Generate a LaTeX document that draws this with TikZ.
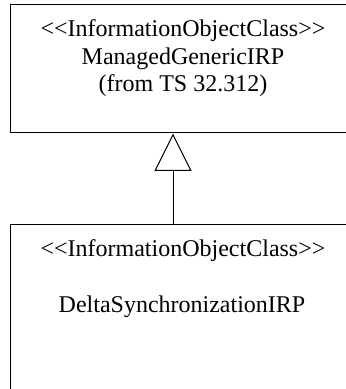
\documentclass[tikz,border=0pt]{standalone}
\usepackage{fontspec}
\setmainfont{Liberation Serif}
\usetikzlibrary{arrows.meta}
\tikzset{
  classbox/.style={draw, line width=1pt, rectangle, inner sep=0pt},
  lbl/.style={anchor=base, inner sep=0pt, font=\fontsize{24}{29}\selectfont},
  gen/.style={line width=1pt, -{Triangle[open, length=37.5pt, width=37pt, line width=1pt]}}
}
\begin{document}
\begin{tikzpicture}[x=1pt,y=1pt]
\clip (0,0) rectangle (346,389);
\node[classbox, minimum width=346pt, minimum height=128pt] (top) at (183,320) {};
\node[classbox, minimum width=346pt, minimum height=200pt] (bot) at (183,64) {};
\node[lbl] (t1) at (183,352) {<{}<InformationObjectClass>{}>};
\node[lbl] (t2) at (183,324) {ManagedGenericIRP};
\node[lbl] (t3) at (183,297) {(from TS 32.312)};
\node[lbl] (b1) at (183,132) {<{}<InformationObjectClass>{}>};
\node[lbl] (b2) at (182,76) {DeltaSynchronizationIRP};
\coordinate (lx) at (173,0);
\draw[gen] (bot.north -| lx) -- (top.south -| lx);
\end{tikzpicture}
\end{document}
